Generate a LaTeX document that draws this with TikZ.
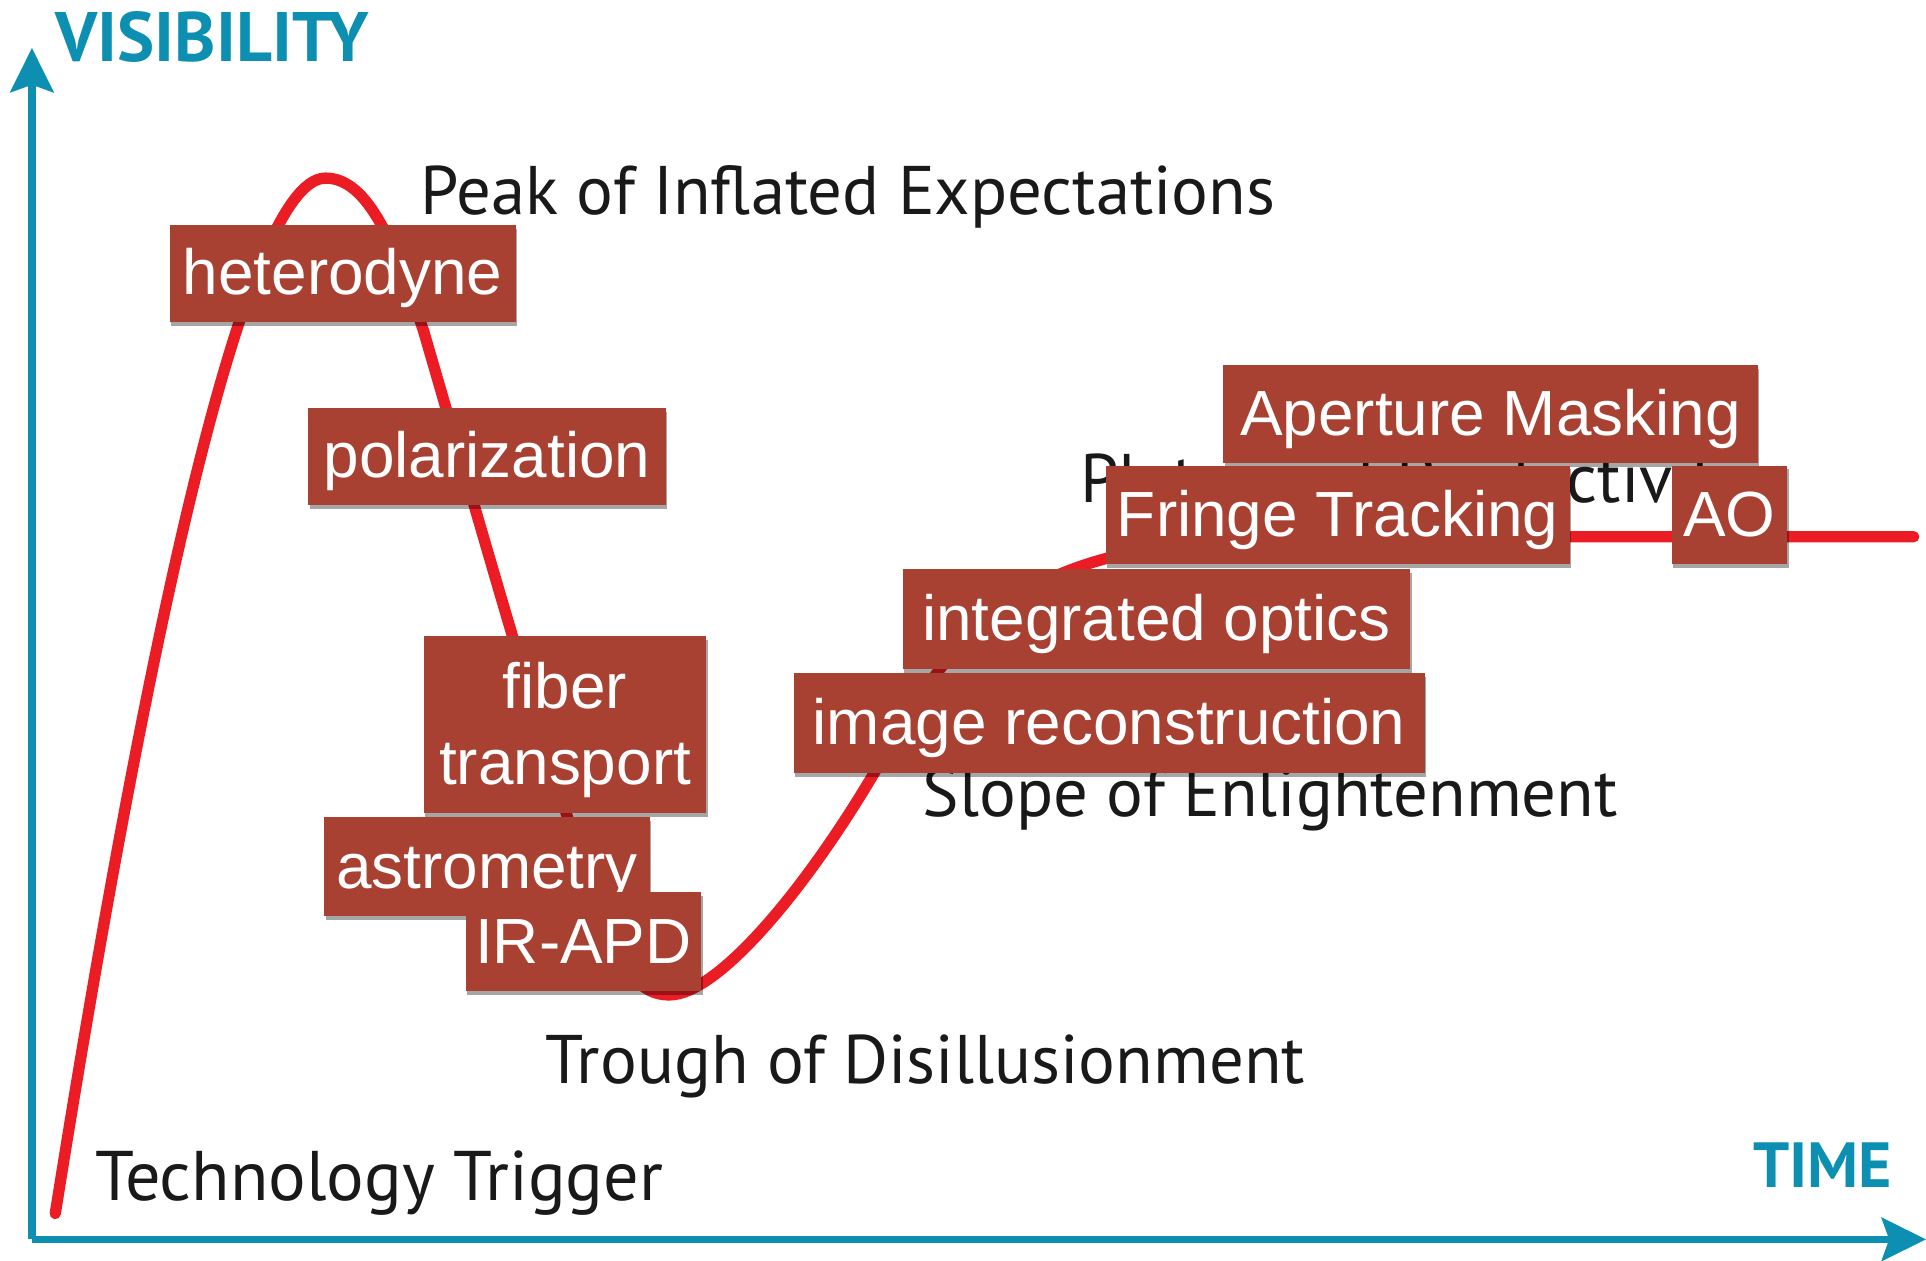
\documentclass[tikz,border=0pt]{standalone}
\usepackage{fontspec}
\usetikzlibrary{shadows,arrows.meta}
\newfontfamily\boxfont{Liberation Sans}
\newfontfamily\lblfont{PT Sans}
\definecolor{axisteal}{RGB}{12,143,176}
\definecolor{hypered}{RGB}{236,28,36}
\definecolor{tagfill}{RGB}{168,65,50}
\definecolor{lbltext}{RGB}{25,25,25}
\tikzset{
  tag/.style={fill=tagfill, text=white, font=\boxfont\fontsize{26}{31}\selectfont,
    inner sep=0pt, text height=19pt, text depth=1.5pt, anchor=center,
    drop shadow={shadow xshift=0.6pt, shadow yshift=-1.6pt, opacity=0.35, fill=black}},
  phase/.style={font=\lblfont\fontsize{28}{31}\selectfont, text=lbltext, anchor=base west, inner sep=0pt},
  axlabel/.style={font=\lblfont\bfseries\fontsize{28.5}{31}\selectfont, text=axisteal, anchor=base west, inner sep=0pt},
  axisline/.style={draw=axisteal, line width=3pt, -{Stealth[length=18pt, width=17.5pt, inset=3pt]}},
  hype/.style={draw=hypered, line width=4.6pt, line cap=round, line join=round}
}
\begin{document}
\begin{tikzpicture}[x=0.5pt, y=-0.5pt]
\useasboundingbox (0,0) rectangle (1568,1026);
% axes
\coordinate (origin) at (26,1009);
\coordinate (ytip) at (26,39);
\coordinate (xtip) at (1568,1009);
\draw[axisline] (origin) -- (ytip);
\draw[axisline] (origin) -- (xtip);
\node[axlabel] (vis) at (45,50) {VISIBILITY};
\node[axlabel, font=\lblfont\bfseries\fontsize{26}{30}\selectfont] (time) at (1427,967) {TIME};
% phase labels
\node[phase] (peak) at (342,175) {Peak of Inflated Expectations};
\node[phase] (plateau) at (879,409) {Plateau of Productivity};
\node[phase] (slope) at (751,665) {Slope of Enlightenment};
\node[phase] (trough) at (444,882) {Trough of Disillusionment};
\node[phase, font=\lblfont\fontsize{28.6}{31}\selectfont] (trigger) at (77,977) {Technology Trigger};
% hype curve
\draw[hype] (45,988) .. controls (110,580) and (195,145) .. (265,145)
  .. controls (300,145) and (322,200) .. (345,270)
  .. controls (380,390) and (440,600) .. (470,690)
  .. controls (500,780) and (515,810) .. (545,810)
  .. controls (585,810) and (660,720) .. (720,615)
  .. controls (780,510) and (830,450) .. (1000,440)
  .. controls (1100,437) .. (1200,437) -- (1558,437);
% tags
\node[tag, minimum width=141pt, minimum height=39.5pt] (het) at (279,222.5) {heterodyne};
\node[tag, minimum width=145.5pt, minimum height=39.5pt] (pol) at (396.5,371.5) {polarization};
\node[tag, minimum width=115pt, minimum height=72pt, align=center, text height=50pt, text depth=1.5pt] (fib) at (460,590) {fiber\\transport};
\node[tag, minimum width=132.5pt, minimum height=40.5pt] (ast) at (396.5,705.5) {astrometry};
\node[tag, minimum width=96pt, minimum height=40.5pt] (ird) at (475,766.5) {IR-APD};
\node[tag, minimum width=257pt, minimum height=40.5pt] (img) at (903,588.5) {image reconstruction};
\node[tag, minimum width=206.5pt, minimum height=41pt] (int) at (941.5,504) {integrated optics};
\node[tag, minimum width=217.5pt, minimum height=40pt] (ape) at (1213.5,337) {Aperture Masking};
\node[tag, minimum width=189pt, minimum height=40pt] (fri) at (1089,419) {Fringe Tracking};
\node[tag, minimum width=47pt, minimum height=40pt] (ao) at (1408,419) {AO};
\end{tikzpicture}
\end{document}
